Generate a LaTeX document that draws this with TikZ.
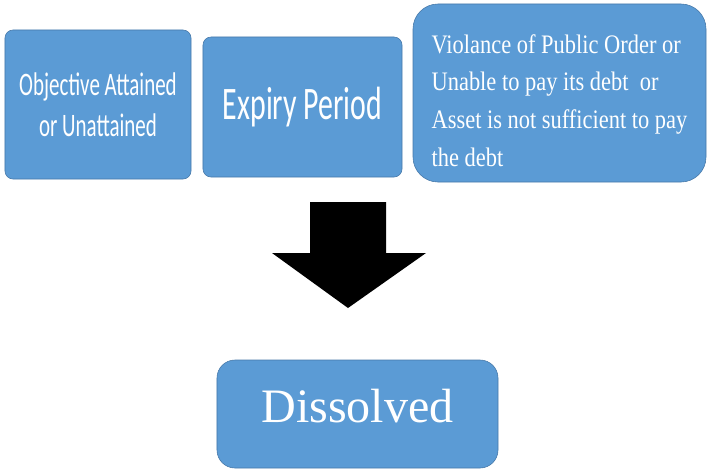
\documentclass[tikz,border=0pt]{standalone}
\usepackage{fontspec}
\newfontfamily\calib[FakeStretch=0.64]{Carlito}
\newfontfamily\timesn[FakeStretch=0.84]{Liberation Serif}
\newfontfamily\timesw{Liberation Serif}
\definecolor{boxblue}{RGB}{91,155,213}
\definecolor{boxedge}{RGB}{70,120,168}
\begin{document}
\begin{tikzpicture}[x=0.03cm,y=-0.03cm,
    blockbox/.style={fill=boxblue,draw=boxedge,line width=0.5pt,text=white,
      inner sep=0pt,outer sep=0pt,rounded corners=#1},
    blockbox/.default=8]
            \useasboundingbox (0,0) rectangle (707,472);
            \node[blockbox=0.24cm, minimum width=5.58cm, minimum height=4.47cm, align=center,
                  font=\calib\fontsize{28}{35}\selectfont] (goal) at (98,104.5)
                  {Objective Attained\\or Unattained};
            \node[blockbox=0.24cm, minimum width=5.97cm, minimum height=4.2cm,
                  font=\calib\fontsize{39.8}{48}\selectfont] (expiry) at (302.5,107)
                  {Expiry Period};
            \node[blockbox=0.75cm, minimum width=8.79cm, minimum height=5.34cm, align=left,
                  font=\timesn\fontsize{22.8}{32.2}\selectfont] (debt) at (559.5,93)
                  {\rule{0pt}{29pt}Violance of Public Order or\\Unable to pay its debt~ or\\Asset is not sufficient to pay\\the debt};
            \fill[black] (310,202) -- (386,202) -- (386,253) -- (426,253) -- (348,308)
                  -- (272,253) -- (310,253) -- cycle;
            \node[blockbox=0.54cm, minimum width=8.43cm, minimum height=3.24cm,
                  text depth=0.48cm, font=\timesw\fontsize{41}{49}\selectfont] (dissolved) at (357.5,414)
                  {Dissolved};
        \end{tikzpicture}
\end{document}
